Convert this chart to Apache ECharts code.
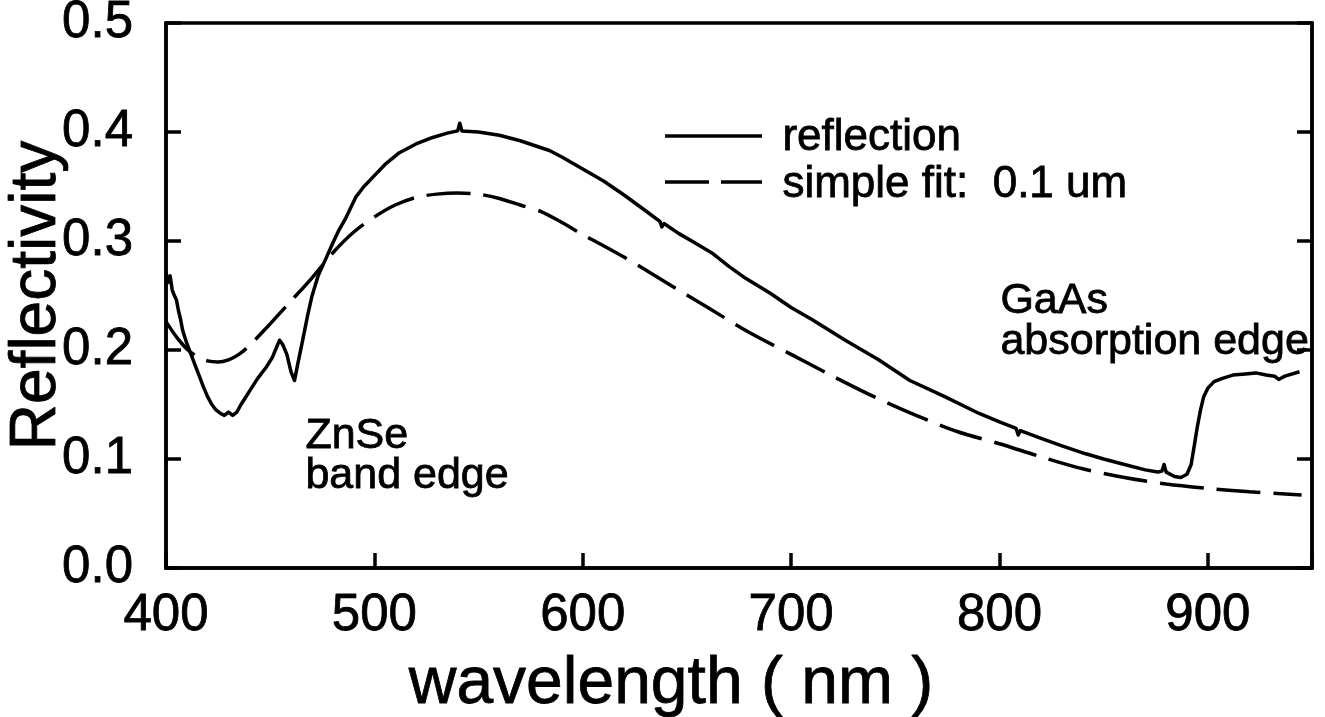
<!DOCTYPE html>
<html>
<head>
<meta charset="utf-8">
<script src="https://cdn.jsdelivr.net/npm/echarts@6/dist/echarts.min.js"></script>
<style>
  html, body { margin: 0; padding: 0; background: #fff; }
  #chart { width: 1325px; height: 717px; }
</style>
</head>
<body>
<div id="chart"></div>
<script>
// Measured reflection spectrum: wavelength (nm) and reflectivity
const reflWavelength = [
  400, 401, 402, 403, 404, 405, 406, 407, 408, 409, 410, 412, 414, 416, 418, 420,
  422, 424, 426, 428, 430, 432, 434, 436, 438, 441, 444, 448, 451, 454.5, 456, 458,
  460, 461.7, 463, 465.6, 468, 470, 473, 477, 480, 483, 486, 491, 495, 500, 505, 512,
  520, 528, 535, 540, 541, 542, 550, 560, 570, 584, 590, 600, 610, 620, 630, 637,
  638, 639, 646, 655, 662, 670, 678, 690, 700, 710, 726, 742, 757, 774, 790, 800,
  808, 809, 810, 820, 830, 841, 850, 860, 870, 876, 878, 879, 880, 884, 887, 890,
  892, 894, 895, 896.5, 898, 900, 903, 907, 912, 918, 923, 928, 932, 934, 937, 944
];
const reflValue = [
  0.271, 0.262, 0.268, 0.255, 0.250, 0.246, 0.236, 0.228, 0.218, 0.212, 0.206, 0.196, 0.186, 0.176, 0.166, 0.157,
  0.150, 0.145, 0.142, 0.140, 0.143, 0.140, 0.143, 0.150, 0.156, 0.165, 0.174, 0.184, 0.193, 0.209, 0.205, 0.196,
  0.180, 0.172, 0.185, 0.209, 0.232, 0.249, 0.268, 0.285, 0.298, 0.310, 0.320, 0.340, 0.350, 0.360, 0.370, 0.381,
  0.389, 0.395, 0.399, 0.401, 0.408, 0.401, 0.400, 0.397, 0.392, 0.383, 0.377, 0.366, 0.355, 0.342, 0.328, 0.318,
  0.313, 0.316, 0.307, 0.297, 0.289, 0.277, 0.266, 0.252, 0.239, 0.228, 0.209, 0.191, 0.172, 0.157, 0.142, 0.134,
  0.128, 0.122, 0.126, 0.119, 0.112, 0.105, 0.100, 0.095, 0.090, 0.088, 0.089, 0.095, 0.088, 0.084, 0.083, 0.086,
  0.095, 0.118, 0.130, 0.145, 0.157, 0.165, 0.171, 0.174, 0.177, 0.178, 0.179, 0.177, 0.176, 0.173, 0.176, 0.180
];

// Simple thin-film fit (0.1 um layer)
const fitWavelength = [
  400, 405, 410, 415, 420, 425, 430, 435, 440, 450, 460, 470, 480, 490, 500, 510,
  520, 530, 540, 550, 560, 570, 580, 590, 600, 620, 640, 660, 680, 700, 720, 740,
  760, 780, 800, 820, 840, 860, 880, 900, 920, 945
];
const fitValue = [
  0.226, 0.212, 0.201, 0.194, 0.190, 0.189, 0.191, 0.196, 0.204, 0.224, 0.245, 0.266, 0.289, 0.308, 0.322, 0.333,
  0.340, 0.343, 0.344, 0.343, 0.339, 0.333, 0.327, 0.317, 0.306, 0.285, 0.262, 0.239, 0.216, 0.196, 0.176, 0.157,
  0.140, 0.125, 0.114, 0.102, 0.091, 0.083, 0.077, 0.073, 0.070, 0.067
];

// Axis ticks
const xTicks = [400, 500, 600, 700, 800, 900];
const yTicks = [0.0, 0.1, 0.2, 0.3, 0.4, 0.5];

const seriesNames = ['reflection', 'simple fit:  0.1 um'];
const notes = [
  ['ZnSe', 'band edge'],
  ['GaAs', 'absorption edge']
];

const FONT = "'Liberation Sans', Arial, Helvetica, sans-serif";
const pair = (xs, ys) => xs.map((x, i) => [x, ys[i]]);

const chart = echarts.init(document.getElementById('chart'), null, { renderer: 'canvas' });

const tickStyle = { show: true, inside: true, length: 15, lineStyle: { color: '#000', width: 3.5 } };
const lineAxis = { show: true, lineStyle: { color: '#000', width: 3.5 } };
const heavy = { textBorderColor: '#000', textBorderWidth: 0.8 };

chart.setOption({
  backgroundColor: '#fff',
  animation: false,
  grid: {
    left: 166, right: 13, top: 23, bottom: 149,
    containLabel: false,
    outerBoundsMode: 'none',
    show: true, borderColor: '#000', borderWidth: 3.5, backgroundColor: 'transparent'
  },
  xAxis: {
    type: 'value',
    min: 400, max: 950, interval: 100,
    name: 'wavelength ( nm )',
    nameLocation: 'middle',
    nameGap: 84,
    nameMoveOverlap: false,
    nameTextStyle: Object.assign({ fontFamily: FONT, fontSize: 66, color: '#000', padding: [0, 136, 0, 0] }, heavy),
    axisLine: lineAxis,
    axisTick: tickStyle,
    splitLine: { show: false },
    axisLabel: Object.assign({
      margin: 22, fontFamily: FONT, fontSize: 51, color: '#000',
      formatter: v => (xTicks.indexOf(v) >= 0 ? String(v) : '')
    }, heavy)
  },
  yAxis: [{
    type: 'value',
    min: 0, max: 0.5, interval: 0.1,
    name: 'Reflectivity',
    nameLocation: 'middle',
    nameGap: 97,
    nameMoveOverlap: false,
    nameTextStyle: Object.assign({ fontFamily: FONT, fontSize: 64, color: '#000' }, heavy),
    axisLine: lineAxis,
    axisTick: tickStyle,
    splitLine: { show: false },
    axisLabel: Object.assign({
      margin: 33, fontFamily: FONT, fontSize: 51, color: '#000',
      formatter: v => {
        const t = yTicks.find(k => Math.abs(k - v) < 1e-9);
        return t === undefined ? '' : t.toFixed(1);
      }
    }, heavy)
  }, {
    type: 'value',
    position: 'right',
    min: 0, max: 0.5, interval: 0.1,
    axisLine: lineAxis,
    axisTick: tickStyle,
    axisLabel: { show: false },
    splitLine: { show: false }
  }],
  series: [{
    name: seriesNames[0],
    type: 'line',
    data: pair(reflWavelength, reflValue),
    symbol: 'none',
    smooth: false,
    lineStyle: { color: '#000', width: 3.5, join: 'round' }
  }, {
    name: seriesNames[1],
    type: 'line',
    data: pair(fitWavelength, fitValue),
    symbol: 'none',
    smooth: 0.3,
    lineStyle: { color: '#000', width: 3.5, type: [44, 13] }
  }],
  graphic: [
    // legend
    { type: 'line', shape: { x1: 665, y1: 136, x2: 762, y2: 136 }, style: { stroke: '#000', lineWidth: 3.5 } },
    { type: 'line', shape: { x1: 665, y1: 182, x2: 762, y2: 182 }, style: { stroke: '#000', lineWidth: 3.5, lineDash: [44, 12] } },
    { type: 'text', left: 782, top: 115, style: { text: seriesNames[0], font: `44px ${FONT}`, fill: '#000', stroke: '#000', lineWidth: 0.8 } },
    { type: 'text', left: 782, top: 162, style: { text: seriesNames[1], font: `44px ${FONT}`, fill: '#000', stroke: '#000', lineWidth: 0.8 } },
    // annotations
    { type: 'text', left: 305, top: 414, style: { text: notes[0].join('\n'), font: `43px ${FONT}`, lineHeight: 40, fill: '#000', stroke: '#000', lineWidth: 0.8 } },
    { type: 'text', left: 1000, top: 279, style: { text: notes[1].join('\n'), font: `43px ${FONT}`, lineHeight: 41, fill: '#000', stroke: '#000', lineWidth: 0.8 } }
  ]
});
</script>
</body>
</html>
